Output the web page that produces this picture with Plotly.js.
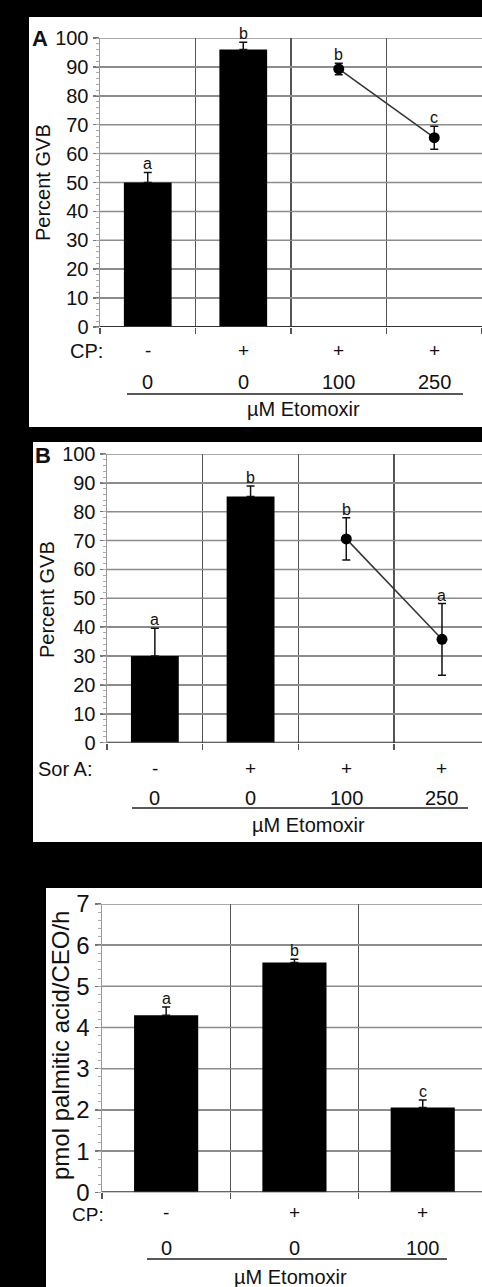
<!DOCTYPE html>
<html>
<head>
<meta charset="utf-8">
<script src="https://cdn.plot.ly/plotly-3.0.1.min.js"></script>
<style>
html,body{margin:0;padding:0;background:#000;}
#chart{width:482px;height:1287px;}
</style>
</head>
<body>
<div id="chart"></div>
<script>
// ---- Data ----
// Panel A (CP, Etomoxir)
const catsA = [0, 1, 2, 3];
const signsA = ["-", "+", "+", "+"];
const dosesA = ["0", "0", "100", "250"];
const barValsA = [50, 96];
const barErrA = [3.5, 2.5];
const lineValsA = [89.3, 65.5];
const lineErrA = [2, 4];
const lettersA = ["a", "b", "b", "c"];

// Panel B (Sor A, Etomoxir)
const catsB = [0, 1, 2, 3];
const signsB = ["-", "+", "+", "+"];
const dosesB = ["0", "0", "100", "250"];
const barValsB = [30, 85.3];
const barErrB = [9.6, 3.6];
const lineValsB = [70.6, 35.8];
const lineErrB = [7.3, 12.4];
const lettersB = ["a", "b", "b", "a"];

// Panel C (palmitic acid oxidation)
const catsC = [0, 1, 2];
const signsC = ["-", "+", "+"];
const dosesC = ["0", "0", "100"];
const barValsC = [4.3, 5.58, 2.06];
const barErrC = [0.2, 0.08, 0.18];
const lettersC = ["a", "b", "c"];

const yTicksAB = [10, 20, 30, 40, 50, 60, 70, 80, 90, 100];
const yTicksC = [1, 2, 3, 4, 5, 6, 7];
const yStepAB = 10;
const yStepC = 1;

// ---- Helpers ----
const W = 482, H = 1287;
const px = v => v / W;
const py = v => 1 - v / H;
const FONT = "Liberation Sans, Arial, sans-serif";
const TXT = "#111";

function xAxis(domain, range, anchor) {
  return {
    domain: domain, range: range, fixedrange: true, anchor: anchor,
    tickmode: "linear", tick0: -0.5, dtick: 1, showticklabels: false,
    ticks: "outside", ticklen: 6, tickcolor: "#555", tickwidth: 1.5,
    showgrid: true, gridcolor: "#555", gridwidth: 1.5,
    zeroline: false, showline: false
  };
}
function yAxis(domain, range, step, fs, anchor) {
  return {
    domain: domain, range: range, fixedrange: true, anchor: anchor,
    tickmode: "linear", tick0: 0, dtick: step,
    ticks: "outside", ticklen: 6, tickcolor: "#777", tickwidth: 1.5,
    tickfont: {family: FONT, size: fs, color: TXT},
    showgrid: true, gridcolor: "#8c8c8c", gridwidth: 1.5,
    zeroline: false,
    showline: true, linecolor: "#999", linewidth: 1.5
  };
}
// minor tick overlay axes (no labels, no grid)
function minorAxis(overlay, anchor, range, dtick) {
  return {
    overlaying: overlay, anchor: anchor, range: range, fixedrange: true,
    tickmode: "linear", tick0: 0, dtick: dtick, ticks: "outside", ticklen: 3,
    tickcolor: "#aaa", tickwidth: 1, showticklabels: false, showgrid: false, zeroline: false, showline: false
  };
}

const errStyle = {color: "#111", thickness: 1.5, width: 4};

function barTrace(cats, vals, errs, xa, ya) {
  return {
    type: "bar", x: cats.slice(0, vals.length), y: vals, width: 0.5,
    marker: {color: "#000", line: {width: 0}},
    error_y: Object.assign({type: "data", symmetric: false, array: errs, arrayminus: errs.map(() => 0)}, errStyle),
    xaxis: xa, yaxis: ya, hoverinfo: "skip", showlegend: false
  };
}
function lineTrace(cats, offset, vals, errs, xa, ya) {
  return {
    type: "scatter", mode: "lines+markers", x: cats.slice(offset, offset + vals.length), y: vals,
    line: {color: "#333", width: 1.5},
    marker: {color: "#000", size: 11},
    error_y: Object.assign({type: "data", array: errs}, errStyle),
    xaxis: xa, yaxis: ya, hoverinfo: "skip", showlegend: false
  };
}

const traces = [
  barTrace(catsA, barValsA, barErrA, "x", "y"),
  lineTrace(catsA, 2, lineValsA, lineErrA, "x", "y"),
  barTrace(catsB, barValsB, barErrB, "x2", "y2"),
  lineTrace(catsB, 2, lineValsB, lineErrB, "x2", "y2"),
  barTrace(catsC, barValsC, barErrC, "x3", "y3")
];
// invisible traces to activate the minor-tick overlay axes
[["x", "y4"], ["x2", "y5"], ["x3", "y6"]].forEach(t => {
  traces.push({type: "scatter", mode: "markers", x: [0], y: [0], xaxis: t[0], yaxis: t[1],
    marker: {opacity: 0}, hoverinfo: "skip", showlegend: false});
});

const annotations = [];
function letterAnns(cats, tops, letters, xref, yref) {
  cats.forEach((c, i) => {
    annotations.push({
      x: c, y: tops[i], xref: xref, yref: yref, text: letters[i], showarrow: false,
      yanchor: "bottom", yshift: -2, font: {family: FONT, size: 16, color: TXT}
    });
  });
}
const topsA = barValsA.map((v, i) => v + barErrA[i]).concat(lineValsA.map((v, i) => v + lineErrA[i]));
const topsB = barValsB.map((v, i) => v + barErrB[i]).concat(lineValsB.map((v, i) => v + lineErrB[i]));
const topsC = barValsC.map((v, i) => v + barErrC[i]);
letterAnns(catsA, topsA, lettersA, "x", "y");
letterAnns(catsB, topsB, lettersB, "x2", "y2");
letterAnns(catsC, topsC, lettersC, "x3", "y3");

function rowAnns(cats, texts, xref, yPix, fs) {
  cats.forEach((c, i) => {
    annotations.push({
      x: c, y: py(yPix), xref: xref, yref: "paper", text: texts[i], showarrow: false,
      xanchor: "center", yanchor: "middle", font: {family: FONT, size: fs, color: TXT}
    });
  });
}
function txt(text, xPix, yPix, fs, opts) {
  annotations.push(Object.assign({
    x: px(xPix), y: py(yPix), xref: "paper", yref: "paper", text: text, showarrow: false,
    xanchor: "center", yanchor: "middle", font: {family: FONT, size: fs, color: TXT}
  }, opts || {}));
}

// Panel A texts
txt("<b>A</b>", 40, 38, 22);
txt("Percent GVB", 43, 183, 20, {textangle: -90});
txt("CP:", 86, 351, 20);
rowAnns(catsA, signsA, "x", 350, 19);
rowAnns(catsA, dosesA, "x", 382, 20);
txt("µM Etomoxir", 303, 409, 20);

// Panel B texts
txt("<b>B</b>", 43, 455, 22);
txt("Percent GVB", 47, 600, 20, {textangle: -90});
txt("Sor A:", 65, 769, 20);
rowAnns(catsB, signsB, "x2", 768, 19);
rowAnns(catsB, dosesB, "x2", 798, 20);
txt("µM Etomoxir", 308, 825, 20);

// Panel C texts
txt("pmol palmitic acid/CEO/h", 60, 1046, 24, {textangle: -90});
txt("CP:", 88, 1214, 19);
rowAnns(catsC, signsC, "x3", 1212, 19);
rowAnns(catsC, dosesC, "x3", 1248, 20);
txt("µM Etomoxir", 290, 1277, 20);

function blackRect(x0, x1, y0, y1) {
  return {type: "rect", xref: "paper", yref: "paper", x0: px(x0), x1: px(x1), y0: py(y1), y1: py(y0),
    fillcolor: "#000", line: {width: 0}, layer: "below"};
}
const shapes = [
  // black frame around the white panels
  blackRect(0, 482, 0, 17),
  blackRect(0, 29, 17, 427),
  blackRect(0, 482, 427, 442),
  blackRect(0, 33, 442, 842),
  blackRect(0, 482, 842, 888),
  blackRect(0, 46, 888, 1287),
  // x axis baselines
  {type: "line", xref: "x domain", yref: "y", x0: 0, x1: 1, y0: 0, y1: 0, line: {color: "#333", width: 2}},
  {type: "line", xref: "x2 domain", yref: "y2", x0: 0, x1: 1, y0: 0, y1: 0, line: {color: "#333", width: 2}},
  {type: "line", xref: "x3 domain", yref: "y3", x0: 0, x1: 1, y0: 0, y1: 0, line: {color: "#333", width: 2}},
  // underline brackets
  {type: "line", xref: "paper", yref: "paper", x0: px(127), x1: px(463), y0: py(394), y1: py(394), line: {color: "#222", width: 1.5}},
  {type: "line", xref: "paper", yref: "paper", x0: px(132), x1: px(468), y0: py(808), y1: py(808), line: {color: "#222", width: 1.5}},
  {type: "line", xref: "paper", yref: "paper", x0: px(147), x1: px(447), y0: py(1259), y1: py(1259), line: {color: "#222", width: 1.5}}
];
// horizontal grid lines at the y tick values (below the traces)
function gridShapes(ticks, xd, ya) {
  ticks.forEach(v => shapes.push({type: "line", xref: xd, yref: ya, x0: 0, x1: 1, y0: v, y1: v,
    line: {color: "#8c8c8c", width: 1.5}, layer: "below"}));
}
gridShapes(yTicksAB, "x domain", "y");
gridShapes(yTicksAB, "x2 domain", "y2");
gridShapes(yTicksC, "x3 domain", "y3");

const layout = {
  width: W, height: H, margin: {l: 0, r: 0, t: 0, b: 0, pad: 0},
  paper_bgcolor: "#fff", plot_bgcolor: "#fff", showlegend: false,
  font: {family: FONT, color: TXT},
  xaxis: xAxis([px(100), 1], [-0.5, 3.5], "y"),
  yaxis: yAxis([py(327), py(38)], [0, 100], yStepAB, 20, "x"),
  xaxis2: xAxis([px(107), 1], [-0.5, 3.418], "y2"),
  yaxis2: yAxis([py(742.7), py(454)], [0, 100], yStepAB, 20, "x2"),
  xaxis3: xAxis([px(102), 1], [-0.5, 2.462], "y3"),
  yaxis3: yAxis([py(1192.3), py(904)], [0, 7], yStepC, 24, "x3"),
  yaxis4: minorAxis("y", "x", [0, 100], 2),
  yaxis5: minorAxis("y2", "x2", [0, 100], 2),
  yaxis6: minorAxis("y3", "x3", [0, 7], 0.2),
  annotations: annotations, shapes: shapes
};

Plotly.newPlot("chart", traces, layout, {staticPlot: true, displayModeBar: false});
</script>
</body>
</html>
